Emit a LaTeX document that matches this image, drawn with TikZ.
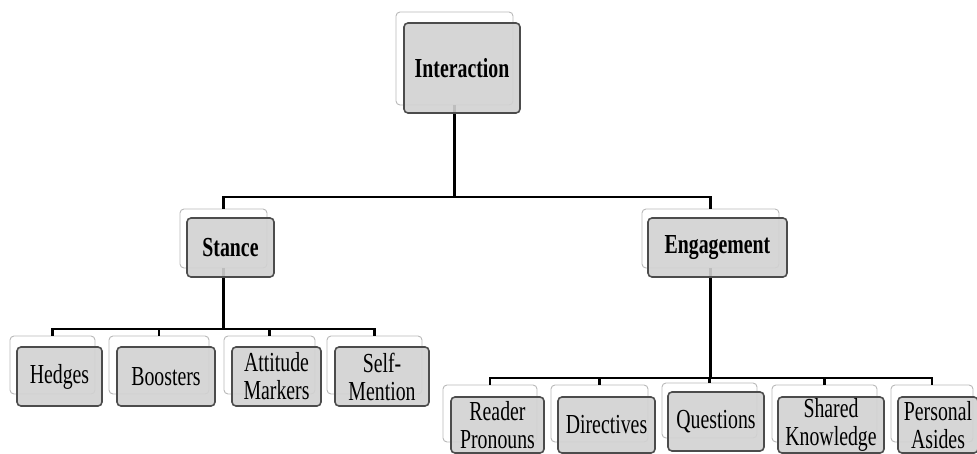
\documentclass[tikz,border=0pt]{standalone}
\usepackage{fontspec}
\setmainfont{Liberation Serif}[FakeStretch=0.72]

\begin{document}
\begin{tikzpicture}[x=1pt,y=-1pt,
  bk/.style={draw=gray!55,fill=white,rounded corners=4pt,line width=0.9pt,inner sep=0pt},
  fr/.style={draw=black!70,fill=gray!35,fill opacity=0.9,text opacity=1,rounded corners=4pt,
    line width=1.6pt,inner sep=0pt,align=center,font=\fontsize{27.5}{28}\selectfont},
  hd/.style={fr,font=\fontsize{27.5}{28}\selectfont\bfseries},
  ln/.style={line width=2.2pt}]
  \useasboundingbox (0,0) rectangle (977,454);
  % back frames
  \node[bk,minimum width=117pt,minimum height=93pt] (intb) at (454.5,58.5) {};
  \node[bk,minimum width=87pt,minimum height=59pt] (stab) at (223.5,238.5) {};
  \node[bk,minimum width=137pt,minimum height=59pt] (engb) at (710.5,238.5) {};
  \node[bk,minimum width=85pt,minimum height=58pt] (hedb) at (52.5,365) {};
  \node[bk,minimum width=100pt,minimum height=58pt] (boob) at (159,365) {};
  \node[bk,minimum width=91pt,minimum height=58pt] (attb) at (269.5,365) {};
  \node[bk,minimum width=95pt,minimum height=58pt] (selb) at (374.5,365) {};
  \node[bk,minimum width=94pt,minimum height=57pt] (reab) at (490,413.5) {};
  \node[bk,minimum width=97pt,minimum height=57pt] (dirb) at (599.5,413.5) {};
  \node[bk,minimum width=95pt,minimum height=55pt] (queb) at (709.5,410.5) {};
  \node[bk,minimum width=105pt,minimum height=57pt] (shab) at (824.5,413.5) {};
  \node[bk,minimum width=82pt,minimum height=57pt] (perb) at (932,413.5) {};
  % junctions
  \coordinate (j0) at (454.5,197);
  \coordinate (j1) at (223.5,329);
  \coordinate (j2) at (710.5,378);
  % connectors
  \draw[ln] (intb.south) -- (j0);
  \draw[ln] (j0) -| (stab.north);
  \draw[ln] (j0) -| (engb.north);
  \draw[ln] (stab.south) -- (j1);
  \draw[ln] (j1) -| (hedb.north);
  \draw[ln] (j1) -| (boob.north);
  \draw[ln] (j1) -| (attb.north);
  \draw[ln] (j1) -| (selb.north);
  \draw[ln] (engb.south) -- (j2);
  \draw[ln] (j2) -| (reab.north);
  \draw[ln] (j2) -| (dirb.north);
  \draw[ln] (j2) -| (queb.north);
  \draw[ln] (j2) -| (shab.north);
  \draw[ln] (j2) -| (perb.north);
  % front boxes
  \node[hd,minimum width=116pt,minimum height=90pt] (int) at (462,68) {Interaction};
  \node[hd,minimum width=87pt,minimum height=59pt] (sta) at (230.5,247.5) {Stance};
  \node[hd,minimum width=139pt,minimum height=59pt] (eng) at (717.5,247.5) {Engagement};
  \node[fr,minimum width=85pt,minimum height=59pt] (hed) at (59.5,376.5) {Hedges};
  \node[fr,minimum width=98pt,minimum height=59pt] (boo) at (166,376.5) {Boosters};
  \node[fr,minimum width=89pt,minimum height=59pt] (att) at (276.5,376.5) {Attitude\\Markers};
  \node[fr,minimum width=94pt,minimum height=59pt] (sel) at (382,376.5) {Self-\\Mention};
  \node[fr,minimum width=93pt,minimum height=56pt] (rea) at (497.5,425) {Reader\\Pronouns};
  \node[fr,minimum width=97pt,minimum height=56pt] (dir) at (606.5,425) {Directives};
  \node[fr,minimum width=96pt,minimum height=59pt] (que) at (716,421.5) {Questions};
  \node[fr,minimum width=106pt,minimum height=56pt] (sha) at (831,425) {Shared\\Knowledge};
  \node[fr,minimum width=80pt,minimum height=56pt] (per) at (938,425) {Personal\\Asides};
\end{tikzpicture}
\end{document}
